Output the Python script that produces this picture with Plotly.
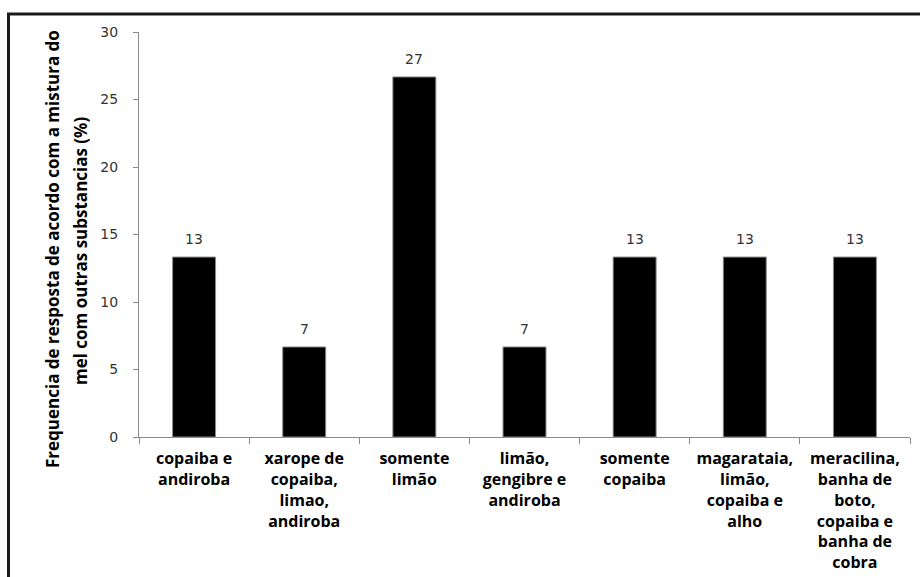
import plotly.graph_objects as go

# Categories (mixtures of honey with other substances)
categories = [
    "copaiba e<br>andiroba",
    "xarope de<br>copaiba,<br>limao,<br>andiroba",
    "somente<br>limão",
    "limão,<br>gengibre e<br>andiroba",
    "somente<br>copaiba",
    "magarataia,<br>limão,<br>copaiba e<br>alho",
    "meracilina,<br>banha de<br>boto,<br>copaiba e<br>banha de<br>cobra",
]
# Response frequency (%)
values = [13.33, 6.67, 26.67, 6.67, 13.33, 13.33, 13.33]

y_title_line1 = "Frequencia de resposta de acordo com a mistura do"
y_title_line2 = "mel com outras substancias (%)"

W, H = 920, 577
ML, MR, MT, MB = 139, 10, 32, 140
PW = W - ML - MR
PH = H - MT - MB


def px_to_paper_x(px):
    return (px - ML) / PW


def px_to_paper_y(py):
    return (H - MB - py) / PH


fig = go.Figure()
fig.add_trace(go.Bar(
    x=categories,
    y=values,
    marker=dict(color="#000000", line=dict(color="#8a8a8a", width=1)),
    hoverinfo="x+y",
))

annotations = []
# value labels above bars
for c, v in zip(categories, values):
    annotations.append(dict(
        x=c, y=v, xref="x", yref="y",
        text=f"{v:.0f}", showarrow=False,
        yanchor="bottom", yshift=8,
        font=dict(family="DejaVu Sans", size=14, color="#333333"),
    ))

# two-line y-axis title
title_font = dict(family="Open Sans", size=17, color="#000000", weight="bold")
annotations.append(dict(
    x=px_to_paper_x(52), y=px_to_paper_y(249), xref="paper", yref="paper",
    text=y_title_line1, textangle=-90, showarrow=False,
    xanchor="center", yanchor="middle", font=title_font,
))
annotations.append(dict(
    x=px_to_paper_x(80), y=px_to_paper_y(251), xref="paper", yref="paper",
    text=y_title_line2, textangle=-90, showarrow=False,
    xanchor="center", yanchor="middle", font=title_font,
))

# outer frame around the figure
shapes = [dict(
    type="rect", xref="paper", yref="paper",
    x0=px_to_paper_x(8.5), x1=px_to_paper_x(W + 20),
    y0=px_to_paper_y(H + 20), y1=px_to_paper_y(14),
    line=dict(color="#1a1a1a", width=3),
    fillcolor="rgba(0,0,0,0)",
)]

fig.update_layout(
    width=W, height=H,
    margin=dict(l=ML, r=MR, t=MT, b=MB, autoexpand=False),
    paper_bgcolor="#ffffff",
    plot_bgcolor="#ffffff",
    bargap=0.61,
    showlegend=False,
    annotations=annotations,
    shapes=shapes,
)

fig.update_xaxes(
    automargin=False,
    showline=True, linecolor="#8a8a8a", linewidth=1,
    ticks="outside", ticklen=6, tickcolor="#8a8a8a", tickwidth=1,
    tickson="boundaries",
    showgrid=False, zeroline=False,
    tickangle=0,
    tickfont=dict(family="Open Sans", size=16, color="#000000", weight="bold"),
    ticklabelstandoff=7,
)
fig.update_yaxes(
    automargin=False,
    range=[0, 30], dtick=5,
    showline=True, linecolor="#8a8a8a", linewidth=1,
    ticks="outside", ticklen=5, tickcolor="#8a8a8a", tickwidth=1,
    showgrid=False, zeroline=False,
    tickfont=dict(family="DejaVu Sans", size=14, color="#333333"),
    ticklabelstandoff=12,
)

fig.write_html("out.html")
